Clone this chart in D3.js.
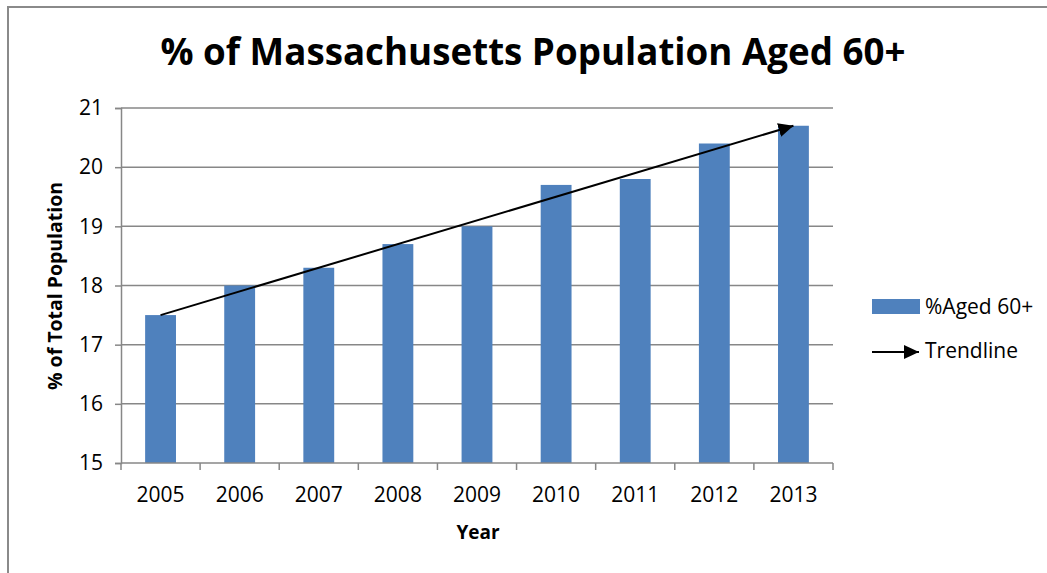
<!DOCTYPE html>
<html>
<head>
<meta charset="utf-8">
<script src="https://cdn.jsdelivr.net/npm/d3@7"></script>
<style>
  html, body { margin: 0; padding: 0; background: #fff; }
  svg { display: block; font-family: "Open Sans", "Noto Sans", sans-serif; }
</style>
</head>
<body>
<svg id="chart" width="1047" height="573"></svg>
<script>
// Share of Massachusetts residents aged 60 and over, by year
const years = ["2005", "2006", "2007", "2008", "2009", "2010", "2011", "2012", "2013"];
const agedShare = [17.5, 18.0, 18.3, 18.7, 19.0, 19.7, 19.8, 20.4, 20.7];
const yTicks = [15, 16, 17, 18, 19, 20, 21];
const seriesName = "%Aged 60+";
const trendName = "Trendline";

const svg = d3.select("#chart");
const gridColor = "#878787";
const barColor = "#4F81BD";

// Outer frame (runs past the right and bottom edges)
svg.append("rect")
  .attr("x", 8).attr("y", 7)
  .attr("width", 1100).attr("height", 600)
  .attr("fill", "none").attr("stroke", "#8a8a8a").attr("stroke-width", 2);

const plot = { left: 121, right: 833, top: 108, bottom: 463 };

const x = d3.scaleBand()
  .domain(years)
  .range([plot.left, plot.right])
  .paddingInner(0.61)
  .paddingOuter(0.305);

const y = d3.scaleLinear()
  .domain([15, 21])
  .range([plot.bottom, plot.top]);

// Horizontal gridlines
svg.append("g")
  .selectAll("line")
  .data(yTicks.filter(t => t !== 15))
  .join("line")
  .attr("x1", plot.left).attr("x2", plot.right)
  .attr("y1", d => y(d)).attr("y2", d => y(d))
  .attr("stroke", gridColor).attr("stroke-width", 1.5);

// Bars
svg.append("g")
  .selectAll("rect")
  .data(years.map((yr, i) => ({ yr, v: agedShare[i] })))
  .join("rect")
  .attr("x", d => x(d.yr))
  .attr("y", d => y(d.v))
  .attr("width", x.bandwidth())
  .attr("height", d => y(15) - y(d.v))
  .attr("fill", barColor);

// Y axis
const yAxis = svg.append("g")
  .attr("transform", `translate(${plot.left},0)`)
  .call(d3.axisLeft(y).tickValues(yTicks).tickSize(6).tickPadding(12).tickFormat(d3.format("d")));
yAxis.select(".domain").attr("stroke", gridColor).attr("stroke-width", 1.5);
yAxis.selectAll(".tick line").attr("stroke", gridColor).attr("stroke-width", 1.5);
yAxis.selectAll(".tick text")
  .attr("font-family", "'Open Sans', sans-serif")
  .attr("font-size", 21).attr("fill", "#000");

// X axis with tick marks between categories
const xAxisG = svg.append("g")
  .attr("transform", `translate(0,${plot.bottom})`);
xAxisG.append("line")
  .attr("x1", plot.left).attr("x2", plot.right)
  .attr("stroke", gridColor).attr("stroke-width", 1.5);
const step = x.step();
const boundaries = d3.range(years.length + 1).map(i => plot.left + i * step);
xAxisG.selectAll("line.tk")
  .data(boundaries)
  .join("line")
  .attr("class", "tk")
  .attr("x1", d => d).attr("x2", d => d)
  .attr("y1", 0).attr("y2", 7)
  .attr("stroke", gridColor).attr("stroke-width", 1.5);
xAxisG.selectAll("text")
  .data(years)
  .join("text")
  .attr("x", d => x(d) + x.bandwidth() / 2)
  .attr("y", 39)
  .attr("text-anchor", "middle")
  .attr("font-size", 21)
  .attr("fill", "#000")
  .text(d => d);

// Arrow marker for the trendline
const defs = svg.append("defs");
defs.append("marker")
  .attr("id", "arrow")
  .attr("viewBox", "0 0 10 10")
  .attr("refX", 10).attr("refY", 5)
  .attr("markerUnits", "userSpaceOnUse")
  .attr("markerWidth", 15).attr("markerHeight", 14)
  .attr("preserveAspectRatio", "none")
  .attr("orient", "auto")
  .append("path")
  .attr("d", "M0,0 L10,5 L0,10 Z")
  .attr("fill", "#000");

// Trendline from first to last value
const first = 0, last = years.length - 1;
svg.append("line")
  .attr("x1", x(years[first]) + x.bandwidth() / 2)
  .attr("y1", y(agedShare[first]))
  .attr("x2", x(years[last]) + x.bandwidth() / 2)
  .attr("y2", y(agedShare[last]))
  .attr("stroke", "#000").attr("stroke-width", 2)
  .attr("marker-end", "url(#arrow)");

// Title
const title = svg.append("text")
  .attr("x", 533).attr("y", 65)
  .attr("text-anchor", "middle")
  .attr("font-size", 37)
  .attr("font-weight", "bold")
  .attr("fill", "#000")
  .text("% of Massachusetts Population Aged 60+");
title.attr("textLength", 745).attr("lengthAdjust", "spacingAndGlyphs");

// Axis titles
svg.append("text")
  .attr("transform", "translate(62,286) rotate(-90)")
  .attr("text-anchor", "middle")
  .attr("font-size", 19)
  .attr("font-weight", "bold")
  .attr("fill", "#000")
  .attr("textLength", 208).attr("lengthAdjust", "spacingAndGlyphs")
  .text("% of Total Population");

svg.append("text")
  .attr("x", 478).attr("y", 539)
  .attr("text-anchor", "middle")
  .attr("font-size", 19)
  .attr("font-weight", "bold")
  .attr("fill", "#000")
  .text("Year");

// Legend
const legend = svg.append("g");
legend.append("rect")
  .attr("x", 872).attr("y", 299)
  .attr("width", 48).attr("height", 15)
  .attr("fill", barColor);
legend.append("text")
  .attr("x", 925).attr("y", 314)
  .attr("font-size", 21).attr("fill", "#000")
  .text(seriesName);
legend.append("line")
  .attr("x1", 872).attr("y1", 352)
  .attr("x2", 919).attr("y2", 352)
  .attr("stroke", "#000").attr("stroke-width", 2)
  .attr("marker-end", "url(#arrow)");
legend.append("text")
  .attr("x", 925).attr("y", 358)
  .attr("font-size", 21).attr("fill", "#000")
  .text(trendName);
</script>
</body>
</html>
